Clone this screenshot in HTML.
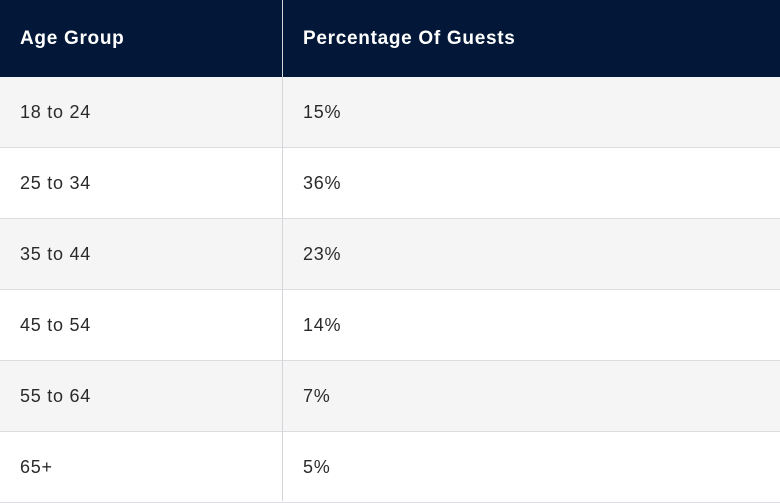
<!DOCTYPE html>
<html><head><meta charset="utf-8"><style>
html,body{margin:0;padding:0;width:780px;height:501px;overflow:hidden;background:#fff;font-family:"Liberation Sans",sans-serif;}
.h{position:absolute;left:0;top:0;width:780px;height:77px;background:#031838;}
.r{position:absolute;left:0;width:780px;height:70px;border-bottom:1px solid #dcdde0;}
.c{position:absolute;top:0;line-height:inherit;font-size:18px;color:#2a2a2a;letter-spacing:0.75px;}
.h .c{color:#fff;font-weight:bold;font-size:19px;letter-spacing:0.7px;line-height:77px;}
.div{position:absolute;left:282px;top:0;width:1px;height:501px;background:#d3d5d9;}
</style></head><body>
<div class="h">
<span class="c" style="left:20px">Age Group</span>
<span class="c" style="left:303px">Percentage Of Guests</span>
</div>
<div id="rows"></div>
<div class="div"></div>
<script>
const ages=["18 to 24","25 to 34","35 to 44","45 to 54","55 to 64","65+"];
const pcts=["15%","36%","23%","14%","7%","5%"];
const root=document.getElementById('rows');
ages.forEach((a,i)=>{
 const r=document.createElement('div');
 r.className='r';
 
 
 r.style.top=(77+i*71)+'px';
 r.style.lineHeight='71px';
 r.style.background=i%2===0?'#f5f5f5':'#fff';
 const c1=document.createElement('span');c1.className='c';c1.style.left='20px';c1.textContent=a;
 
 
 const c2=document.createElement('span');c2.className='c';c2.style.left='303px';c2.textContent=pcts[i];
 
 
 r.appendChild(c1);r.appendChild(c2);root.appendChild(r);
});
</script>
</body></html>
